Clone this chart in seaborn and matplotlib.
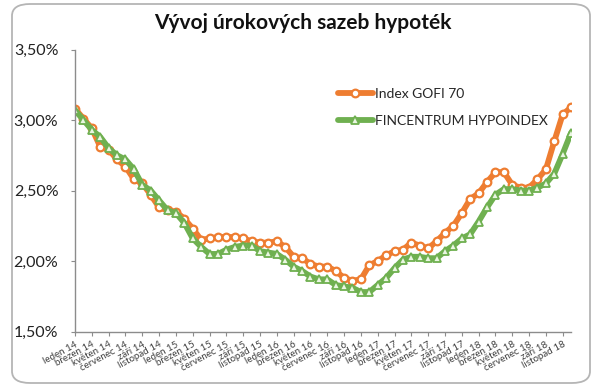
import matplotlib
matplotlib.use("Agg")
import matplotlib.pyplot as plt
import numpy as np
import pandas as pd
import seaborn as sns
from matplotlib.patches import FancyBboxPatch
from matplotlib.ticker import FuncFormatter

months = ["leden", "únor", "březen", "duben", "květen", "červen",
          "červenec", "srpen", "září", "říjen", "listopad", "prosinec"]
years = ["14", "15", "16", "17", "18"]
periods = [f"{m} {y}" for y in years for m in months]

gofi = [3.08, 3.01, 2.94, 2.81, 2.79, 2.72, 2.67, 2.58, 2.55, 2.47,
        2.38, 2.36, 2.35, 2.30, 2.23, 2.15, 2.16, 2.17, 2.17, 2.17,
        2.16, 2.14, 2.13, 2.13, 2.14, 2.10, 2.03, 2.02, 1.98, 1.96,
        1.96, 1.93, 1.88, 1.86, 1.87, 1.97, 2.00, 2.04, 2.07, 2.08,
        2.13, 2.11, 2.09, 2.14, 2.20, 2.25, 2.34, 2.44, 2.48, 2.56,
        2.63, 2.63, 2.54, 2.52, 2.52, 2.58, 2.65, 2.85, 3.04, 3.09]

fincentrum = [3.07, 3.00, 2.93, 2.88, 2.80, 2.75, 2.72, 2.65, 2.54, 2.50,
              2.43, 2.36, 2.34, 2.27, 2.16, 2.10, 2.05, 2.05, 2.08, 2.10,
              2.11, 2.11, 2.07, 2.06, 2.05, 2.01, 1.96, 1.93, 1.89, 1.87,
              1.87, 1.83, 1.82, 1.81, 1.78, 1.78, 1.83, 1.88, 1.95, 2.01,
              2.03, 2.03, 2.02, 2.02, 2.07, 2.11, 2.16, 2.19, 2.28, 2.38,
              2.47, 2.51, 2.51, 2.50, 2.50, 2.52, 2.55, 2.62, 2.76, 2.91]

series_names = ["Index GOFI 70", "FINCENTRUM HYPOINDEX"]
y_ticks = [1.5, 2.0, 2.5, 3.0, 3.5]

df = pd.DataFrame({
    "idx": np.arange(len(periods)),
    series_names[0]: gofi,
    series_names[1]: fincentrum,
})

sns.set_style("white")
plt.rcParams["font.family"] = ["Lato", "DejaVu Sans"]

fig = plt.figure(figsize=(6.05, 3.92), dpi=100)
ax = fig.add_axes([0.124, 0.1543, 0.820, 0.7194])

orange = "#EE7D31"
green = "#6FB050"

sns.lineplot(data=df, x="idx", y=series_names[0], ax=ax, color=orange,
             linewidth=4.2, marker="o", markersize=5.5, markerfacecolor="white",
             markeredgecolor=orange, markeredgewidth=1.6, label=series_names[0])
sns.lineplot(data=df, x="idx", y=series_names[1], ax=ax, color=green,
             linewidth=4.2, marker="^", markersize=6, markerfacecolor="#eaf6e2",
             markeredgecolor=green, markeredgewidth=1.3, label=series_names[1])

ax.set_xlim(0, len(periods) - 1)
ax.set_ylim(1.5, 3.5)
ax.set_yticks(y_ticks)
ax.yaxis.set_major_formatter(FuncFormatter(lambda v, p: f"{v:.2f}".replace(".", ",") + "%"))
ax.set_xticks(df["idx"][::2])
ax.set_xticklabels(periods[::2], rotation=28, ha="right", rotation_mode="anchor",
                   fontsize=7, color="#404040")
ax.tick_params(axis="y", labelsize=11.5, colors="#222222", length=3, direction="out",
               left=True, color="#8c8c8c", pad=9)
ax.tick_params(axis="x", length=3, direction="out", bottom=True, color="#8c8c8c", pad=3)
ax.set_xlabel("")
ax.set_ylabel("")
ax.grid(False)
for side in ["top", "right"]:
    ax.spines[side].set_visible(False)
for side in ["left", "bottom"]:
    ax.spines[side].set_color("#8c8c8c")
    ax.spines[side].set_linewidth(1)

leg = ax.legend(loc="upper left", bbox_to_anchor=(338 / 605, 1 - 88 / 392),
                bbox_transform=fig.transFigure, frameon=False, fontsize=10,
                handlelength=2.5, handletextpad=0.15, labelspacing=1.05,
                borderpad=0, borderaxespad=0)

fig.text(0.5, 1 - 23 / 392, "Vývoj úrokových sazeb hypoték", ha="center", va="center",
         fontsize=15, fontweight="bold", color="#111111")

border = FancyBboxPatch((12 / 605, 9 / 392), 578 / 605, 379 / 392,
                        boxstyle="round,pad=0,rounding_size=0.03",
                        transform=fig.transFigure, facecolor="none",
                        edgecolor="#b5b5b5", linewidth=1.3, zorder=-1)
fig.patches.append(border)

fig.savefig("out.png", dpi=100)
